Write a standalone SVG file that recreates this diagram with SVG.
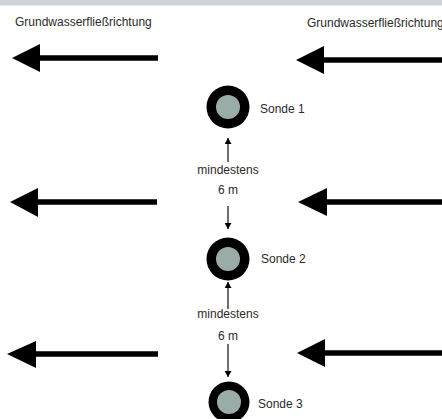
<svg xmlns="http://www.w3.org/2000/svg" width="442" height="419" viewBox="0 0 442 419">
<style>
text{font-family:"Liberation Sans",Arial,sans-serif;font-size:12px;fill:#2a2a2a}
.flow{stroke:#000;stroke-width:5.5;fill:none}
.head{fill:#000}
.dim{stroke:#222;stroke-width:1.3;fill:none}
.ring{fill:#000}
.core{fill:#9aaca8}
</style>
<defs>
<marker id="sm" markerWidth="6" markerHeight="7" refX="6" refY="3.5" orient="auto" markerUnits="userSpaceOnUse">
<path d="M0,0 L6,3.5 L0,7 Z" fill="#000"/>
</marker>
</defs>
<rect x="0" y="0" width="442" height="419" fill="#fff"/>
<rect x="0" y="0" width="442" height="5" fill="#cfd3dc"/>
<rect x="0" y="5" width="442" height="1" fill="#e4e7ec"/>
<text x="15" y="25.5">Grundwasserfließrichtung</text>
<text x="307" y="26.5">Grundwasserfließrichtung</text>
<g id="connectors">
<g id="flow-arrows">
<line class="flow" x1="38" y1="58" x2="158" y2="58"/>
<polygon class="head" points="12,58 40,44 40,72"/>
<line class="flow" x1="321" y1="60" x2="442" y2="60"/>
<polygon class="head" points="296,60 324,46 324,74"/>
<line class="flow" x1="36" y1="202" x2="157" y2="202"/>
<polygon class="head" points="10,202 38,188 38,217"/>
<line class="flow" x1="324" y1="202" x2="442" y2="202"/>
<polygon class="head" points="298,202 327,188 327,216"/>
<line class="flow" x1="34" y1="354" x2="158" y2="354"/>
<polygon class="head" points="7,354 36,341 36,368"/>
<line class="flow" x1="323" y1="353" x2="442" y2="353"/>
<polygon class="head" points="297,353 325,339 325,367"/>
</g>
<g id="distance-arrows">
<line class="dim" x1="228" y1="162" x2="228" y2="138" marker-end="url(#sm)"/>
<line class="dim" x1="228" y1="206" x2="228" y2="229" marker-end="url(#sm)"/>
<line class="dim" x1="228" y1="309" x2="228" y2="282" marker-end="url(#sm)"/>
<line class="dim" x1="228" y1="344" x2="228" y2="377" marker-end="url(#sm)"/>
</g>
</g>
<g id="sonde1">
<circle class="ring" cx="228" cy="107" r="21.5"/>
<circle class="core" cx="228" cy="107" r="12"/>
<text x="260" y="113">Sonde 1</text>
</g>
<g id="abstand1">
<text x="228" y="174" text-anchor="middle">mindestens</text>
<text x="228" y="194" text-anchor="middle">6 m</text>
</g>
<g id="sonde2">
<circle class="ring" cx="228" cy="259" r="21.5"/>
<circle class="core" cx="228" cy="259" r="12"/>
<text x="261" y="263">Sonde 2</text>
</g>
<g id="abstand2">
<text x="228" y="318" text-anchor="middle">mindestens</text>
<text x="228" y="340" text-anchor="middle">6 m</text>
</g>
<g id="sonde3">
<circle class="ring" cx="229" cy="402" r="20.5"/>
<circle class="core" cx="229" cy="402" r="12"/>
<text x="258" y="408">Sonde 3</text>
</g>
</svg>
